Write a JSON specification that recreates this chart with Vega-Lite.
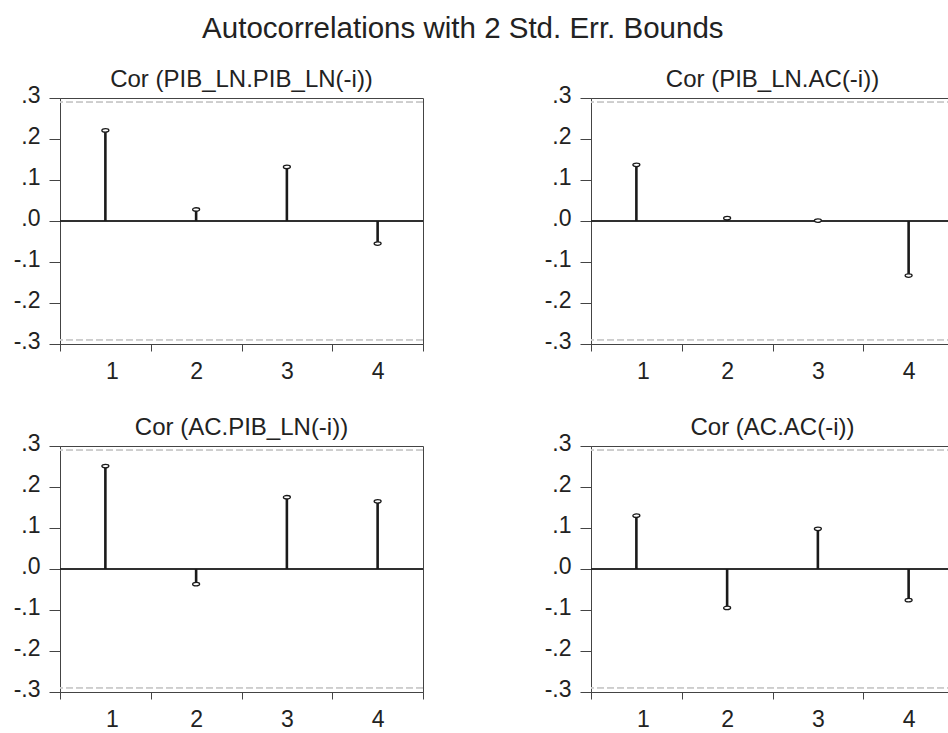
{
  "$schema": "https://vega.github.io/schema/vega-lite/v6.json",
  "padding": {"left": 12, "top": 14, "right": 0, "bottom": 0},
  "title": {"text": "Autocorrelations with 2 Std. Err. Bounds", "fontSize": 29.5, "fontWeight": "normal", "font": "Liberation Sans", "color": "#222222", "anchor": "middle", "dx": -21, "offset": 23},
  "data": {"values": [
    {"panel": "Cor (PIB_LN.PIB_LN(-i))", "lag": 1, "r": 0.221},
    {"panel": "Cor (PIB_LN.PIB_LN(-i))", "lag": 2, "r": 0.028},
    {"panel": "Cor (PIB_LN.PIB_LN(-i))", "lag": 3, "r": 0.132},
    {"panel": "Cor (PIB_LN.PIB_LN(-i))", "lag": 4, "r": -0.055},
    {"panel": "Cor (PIB_LN.AC(-i))", "lag": 1, "r": 0.137},
    {"panel": "Cor (PIB_LN.AC(-i))", "lag": 2, "r": 0.007},
    {"panel": "Cor (PIB_LN.AC(-i))", "lag": 3, "r": 0.001},
    {"panel": "Cor (PIB_LN.AC(-i))", "lag": 4, "r": -0.133},
    {"panel": "Cor (AC.PIB_LN(-i))", "lag": 1, "r": 0.251},
    {"panel": "Cor (AC.PIB_LN(-i))", "lag": 2, "r": -0.037},
    {"panel": "Cor (AC.PIB_LN(-i))", "lag": 3, "r": 0.175},
    {"panel": "Cor (AC.PIB_LN(-i))", "lag": 4, "r": 0.165},
    {"panel": "Cor (AC.AC(-i))", "lag": 1, "r": 0.130},
    {"panel": "Cor (AC.AC(-i))", "lag": 2, "r": -0.095},
    {"panel": "Cor (AC.AC(-i))", "lag": 3, "r": 0.098},
    {"panel": "Cor (AC.AC(-i))", "lag": 4, "r": -0.076}
  ]},
  "facet": {"field": "panel", "type": "nominal", "title": null,
    "sort": ["Cor (PIB_LN.PIB_LN(-i))", "Cor (PIB_LN.AC(-i))", "Cor (AC.PIB_LN(-i))", "Cor (AC.AC(-i))"],
    "header": {"title": null, "labelFontSize": 24, "labelFont": "Liberation Sans", "labelColor": "#222222", "labelPadding": -8}},
  "columns": 2,
  "bounds": "flush",
  "spacing": {"row": 102, "column": 168},
  "resolve": {"axis": {"x": "independent", "y": "independent"}},
  "spec": {
    "width": 363,
    "height": 246,
    "layer": [
      {"mark": {"type": "rule", "strokeDash": [7, 3], "color": "#cccccc", "strokeWidth": 1},
       "encoding": {"y": {"datum": 0.29, "type": "quantitative"}}},
      {"mark": {"type": "rule", "strokeDash": [7, 3], "color": "#cccccc", "strokeWidth": 1},
       "encoding": {"y": {"datum": -0.29, "type": "quantitative"}}},
      {"mark": {"type": "rule", "color": "#222222", "strokeWidth": 1},
       "encoding": {"y": {"datum": 0, "type": "quantitative"}}},
      {"mark": {"type": "rule", "color": "#1a1a1a", "strokeWidth": 2.6},
       "encoding": {
         "x": {"field": "lag", "type": "quantitative", "title": null,
               "scale": {"domain": [0.5, 4.5], "nice": false, "zero": false},
               "axis": {"values": [0.5, 1.5, 2.5, 3.5, 4.5], "labelExpr": "datum.value < 4 ? format(datum.value + 0.5, 'd') : ''", "labelOffset": 45.4, "tickSize": 7, "labelPadding": 9, "grid": false}},
         "y": {"field": "r", "type": "quantitative", "title": null,
               "scale": {"domain": [-0.3, 0.3], "nice": false, "zero": false},
               "axis": {"values": [-0.3, -0.2, -0.1, 0, 0.1, 0.2, 0.3], "labelExpr": "replace(replace(format(datum.value, '.1f'), '0.', '.'), '\u2212', '-')", "tickSize": 11, "labelPadding": 9, "labelOffset": -3, "grid": false}},
         "y2": {"datum": 0}
       }},
      {"mark": {"type": "point", "shape": "M-1,0A1,0.5 0 1,1 1,0A1,0.5 0 1,1 -1,0Z", "size": 49, "filled": true, "fill": "white", "stroke": "#1a1a1a", "strokeWidth": 1.3, "opacity": 1},
       "encoding": {
         "x": {"field": "lag", "type": "quantitative"},
         "y": {"field": "r", "type": "quantitative"}
       }}
    ]
  },
  "config": {
    "font": "Liberation Sans",
    "view": {"stroke": "#444444", "strokeWidth": 1},
    "axis": {"title": null, "labelFont": "Liberation Sans", "labelFontSize": 23, "labelColor": "#222222", "domainColor": "#444444", "tickColor": "#444444", "grid": false}
  }
}
